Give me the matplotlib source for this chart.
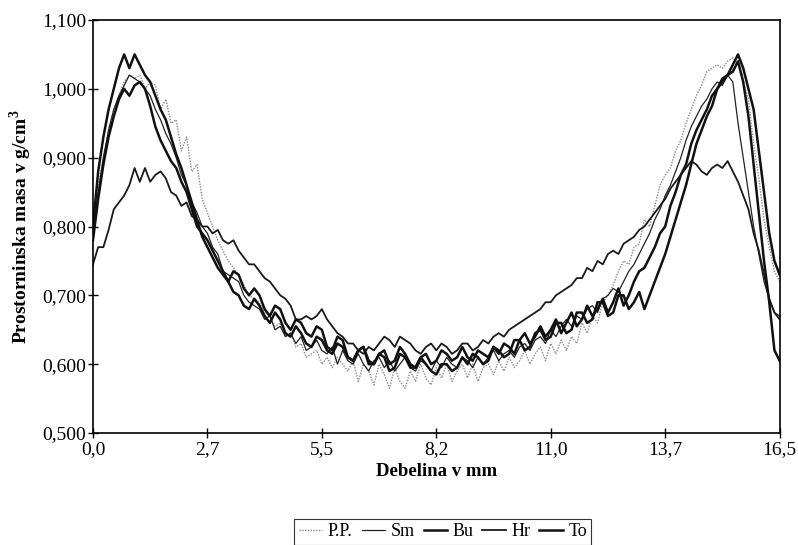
import numpy as np
import matplotlib
matplotlib.use("Agg")
import matplotlib.pyplot as plt

plt.rcParams['font.family'] = ['Liberation Serif', 'DejaVu Serif']
plt.rcParams['mathtext.fontset'] = 'custom'
plt.rcParams['mathtext.rm'] = 'Liberation Serif'
plt.rcParams['mathtext.bf'] = 'Liberation Serif:bold'

# sample positions along the board thickness (mm), step 0.125
thickness = np.linspace(0, 16.5, 133)

pp = [0.80, 0.86, 0.90, 0.94, 0.97, 0.99, 1.01, 1.02,
      1.015, 1.02, 1.00, 1.01, 1.005, 0.97, 0.985, 0.95,
      0.955, 0.91, 0.93, 0.88, 0.89, 0.84, 0.82, 0.80,
      0.78, 0.765, 0.75, 0.74, 0.73, 0.715, 0.70, 0.695,
      0.69, 0.675, 0.67, 0.655, 0.66, 0.64, 0.645, 0.625,
      0.63, 0.61, 0.615, 0.62, 0.60, 0.61, 0.595, 0.61,
      0.60, 0.59, 0.605, 0.575, 0.60, 0.59, 0.57, 0.60,
      0.585, 0.565, 0.595, 0.575, 0.565, 0.59, 0.575, 0.60,
      0.58, 0.57, 0.595, 0.58, 0.60, 0.575, 0.59, 0.60,
      0.58, 0.60, 0.575, 0.595, 0.60, 0.585, 0.605, 0.59,
      0.61, 0.595, 0.605, 0.62, 0.60, 0.615, 0.625, 0.605,
      0.63, 0.615, 0.635, 0.62, 0.64, 0.63, 0.66, 0.645,
      0.67, 0.66, 0.69, 0.70, 0.715, 0.735, 0.75, 0.745,
      0.77, 0.775, 0.81, 0.80, 0.83, 0.86, 0.875, 0.885,
      0.91, 0.925, 0.95, 0.97, 0.99, 1.005, 1.025, 1.03,
      1.035, 1.03, 1.04, 1.045, 1.035, 1.01, 0.985, 0.92,
      0.87, 0.81, 0.77, 0.735, 0.72]

sm = [0.79, 0.85, 0.90, 0.94, 0.97, 0.99, 1.005, 1.02,
      1.015, 1.01, 1.00, 0.99, 0.97, 0.955, 0.935, 0.92,
      0.90, 0.875, 0.86, 0.835, 0.82, 0.80, 0.79, 0.77,
      0.76, 0.735, 0.73, 0.725, 0.72, 0.70, 0.69, 0.685,
      0.68, 0.665, 0.67, 0.65, 0.655, 0.64, 0.645, 0.63,
      0.64, 0.62, 0.625, 0.635, 0.62, 0.615, 0.625, 0.60,
      0.62, 0.605, 0.60, 0.615, 0.60, 0.59, 0.605, 0.61,
      0.595, 0.605, 0.59, 0.60, 0.61, 0.595, 0.59, 0.605,
      0.60, 0.59, 0.605, 0.595, 0.61, 0.60, 0.595, 0.61,
      0.605, 0.595, 0.61, 0.60, 0.61, 0.62, 0.605, 0.615,
      0.62, 0.61, 0.625, 0.63, 0.62, 0.635, 0.64, 0.63,
      0.65, 0.64, 0.655, 0.665, 0.655, 0.67, 0.665, 0.68,
      0.685, 0.675, 0.695, 0.70, 0.71, 0.705, 0.72, 0.735,
      0.745, 0.76, 0.775, 0.79, 0.81, 0.825, 0.845, 0.86,
      0.88, 0.90, 0.925, 0.945, 0.96, 0.975, 0.985, 1.00,
      1.01, 1.005, 1.02, 1.01, 0.95, 0.90, 0.85, 0.80,
      0.76, 0.72, 0.695, 0.675, 0.67]

bu = [0.80, 0.88, 0.93, 0.97, 1.00, 1.03, 1.05, 1.03,
      1.05, 1.035, 1.02, 1.01, 0.99, 0.97, 0.955, 0.93,
      0.905, 0.885, 0.86, 0.835, 0.81, 0.785, 0.77, 0.755,
      0.74, 0.73, 0.72, 0.705, 0.70, 0.685, 0.68, 0.695,
      0.685, 0.67, 0.66, 0.675, 0.665, 0.645, 0.64, 0.655,
      0.645, 0.63, 0.625, 0.64, 0.635, 0.62, 0.615, 0.63,
      0.625, 0.61, 0.605, 0.62, 0.625, 0.605, 0.60, 0.615,
      0.62, 0.60, 0.605, 0.625, 0.615, 0.60, 0.595, 0.61,
      0.615, 0.60, 0.605, 0.62, 0.615, 0.605, 0.61, 0.625,
      0.61, 0.605, 0.62, 0.615, 0.61, 0.625, 0.615, 0.63,
      0.625, 0.615, 0.635, 0.645, 0.63, 0.64, 0.655, 0.64,
      0.65, 0.665, 0.645, 0.66, 0.675, 0.655, 0.665, 0.685,
      0.67, 0.68, 0.695, 0.675, 0.69, 0.71, 0.685, 0.70,
      0.72, 0.735, 0.74, 0.755, 0.77, 0.79, 0.80, 0.83,
      0.85, 0.875, 0.89, 0.92, 0.94, 0.955, 0.97, 0.99,
      1.00, 1.015, 1.02, 1.035, 1.05, 1.03, 1.00, 0.97,
      0.91, 0.85, 0.79, 0.75, 0.73]

hr = [0.745, 0.77, 0.77, 0.795, 0.825, 0.835, 0.845, 0.86,
      0.885, 0.865, 0.885, 0.865, 0.875, 0.88, 0.87, 0.85,
      0.845, 0.83, 0.835, 0.815, 0.81, 0.80, 0.80, 0.79,
      0.795, 0.78, 0.775, 0.78, 0.765, 0.755, 0.745, 0.745,
      0.735, 0.725, 0.72, 0.71, 0.70, 0.695, 0.685, 0.665,
      0.665, 0.67, 0.665, 0.67, 0.68, 0.665, 0.655, 0.645,
      0.64, 0.63, 0.63, 0.62, 0.615, 0.625, 0.62, 0.63,
      0.64, 0.635, 0.625, 0.64, 0.635, 0.63, 0.62, 0.615,
      0.625, 0.63, 0.62, 0.63, 0.625, 0.615, 0.62, 0.63,
      0.63, 0.62, 0.625, 0.635, 0.63, 0.64, 0.645, 0.64,
      0.65, 0.655, 0.66, 0.665, 0.67, 0.675, 0.68, 0.69,
      0.69, 0.70, 0.705, 0.71, 0.715, 0.725, 0.725, 0.74,
      0.735, 0.75, 0.745, 0.76, 0.765, 0.76, 0.775, 0.78,
      0.785, 0.795, 0.80, 0.81, 0.82, 0.83, 0.84, 0.855,
      0.865, 0.875, 0.885, 0.895, 0.89, 0.88, 0.875, 0.885,
      0.89, 0.885, 0.895, 0.88, 0.865, 0.845, 0.825, 0.79,
      0.765, 0.73, 0.695, 0.675, 0.665]

to = [0.78, 0.84, 0.89, 0.93, 0.96, 0.985, 1.00, 0.99,
      1.005, 1.01, 1.00, 0.975, 0.945, 0.925, 0.91, 0.895,
      0.885, 0.865, 0.85, 0.825, 0.80, 0.79, 0.78, 0.765,
      0.75, 0.735, 0.72, 0.735, 0.73, 0.71, 0.70, 0.71,
      0.70, 0.68, 0.67, 0.685, 0.68, 0.66, 0.65, 0.665,
      0.66, 0.645, 0.64, 0.655, 0.65, 0.625, 0.62, 0.64,
      0.635, 0.61, 0.605, 0.62, 0.625, 0.60, 0.60, 0.615,
      0.61, 0.59, 0.595, 0.615, 0.61, 0.595, 0.595, 0.61,
      0.60, 0.59, 0.585, 0.60, 0.60, 0.59, 0.595, 0.61,
      0.60, 0.615, 0.61, 0.60, 0.605, 0.625, 0.62, 0.61,
      0.615, 0.635, 0.635, 0.62, 0.625, 0.645, 0.65, 0.635,
      0.64, 0.66, 0.66, 0.645, 0.65, 0.675, 0.675, 0.66,
      0.665, 0.69, 0.69, 0.67, 0.675, 0.70, 0.70, 0.68,
      0.69, 0.705, 0.68, 0.70, 0.72, 0.74, 0.76, 0.785,
      0.81, 0.835, 0.86, 0.89, 0.92, 0.94, 0.96, 0.975,
      1.00, 1.01, 1.02, 1.025, 1.04, 1.01, 0.96, 0.89,
      0.82, 0.75, 0.69, 0.62, 0.605]

series_names = ['P.P.', 'Sm', 'Bu', 'Hr', 'To']
x_tick_pos = [0, 2.75, 5.5, 8.25, 11.0, 13.75, 16.5]
x_tick_labels = ['0,0', '2,7', '5,5', '8,2', '11,0', '13,7', '16,5']
y_ticks = [0.5, 0.6, 0.7, 0.8, 0.9, 1.0, 1.1]

fig = plt.figure(figsize=(7.98, 5.45), dpi=100)
ax = fig.add_axes([0.1165, 0.2055, 0.8605, 0.7578])

ax.plot(thickness, pp, color='#8a8a8a', lw=1.0, ls=(0, (1, 1)), label=series_names[0])
ax.plot(thickness, sm, color='#222222', lw=0.9, label=series_names[1])
ax.plot(thickness, bu, color='#111111', lw=1.8, label=series_names[2])
ax.plot(thickness, hr, color='#1a1a1a', lw=1.3, label=series_names[3])
ax.plot(thickness, to, color='#111111', lw=1.8, label=series_names[4])

ax.set_xlim(0, 16.5)
ax.set_ylim(0.5, 1.1)
ax.set_xticks(x_tick_pos)
ax.set_xticklabels(x_tick_labels)
ax.set_yticks(y_ticks)
ax.set_yticklabels([f"{v:.3f}".replace('.', ',') for v in y_ticks])
ax.tick_params(direction='inout', length=7, width=1, labelsize=14)
ax.tick_params(axis='y', pad=1.5)
ax.tick_params(axis='x', pad=2)
for s in ax.spines.values():
    s.set_linewidth(1.2)

ax.set_xlabel('Debelina v mm', fontsize=13.5, fontweight='bold', labelpad=4)
ax.set_ylabel('Prostorninska masa v g/cm$^\\mathbf{3}$', fontsize=14, fontweight='bold', labelpad=6)

leg = fig.legend(loc='upper center', bbox_to_anchor=(0.555, 0.048), ncol=5, frameon=True,
                 fancybox=False, edgecolor='black', handlelength=1.3, handletextpad=0.3,
                 columnspacing=0.5, fontsize=13, borderpad=0.25, borderaxespad=0)
leg.get_frame().set_linewidth(0.8)

fig.savefig('out.png', dpi=100)
